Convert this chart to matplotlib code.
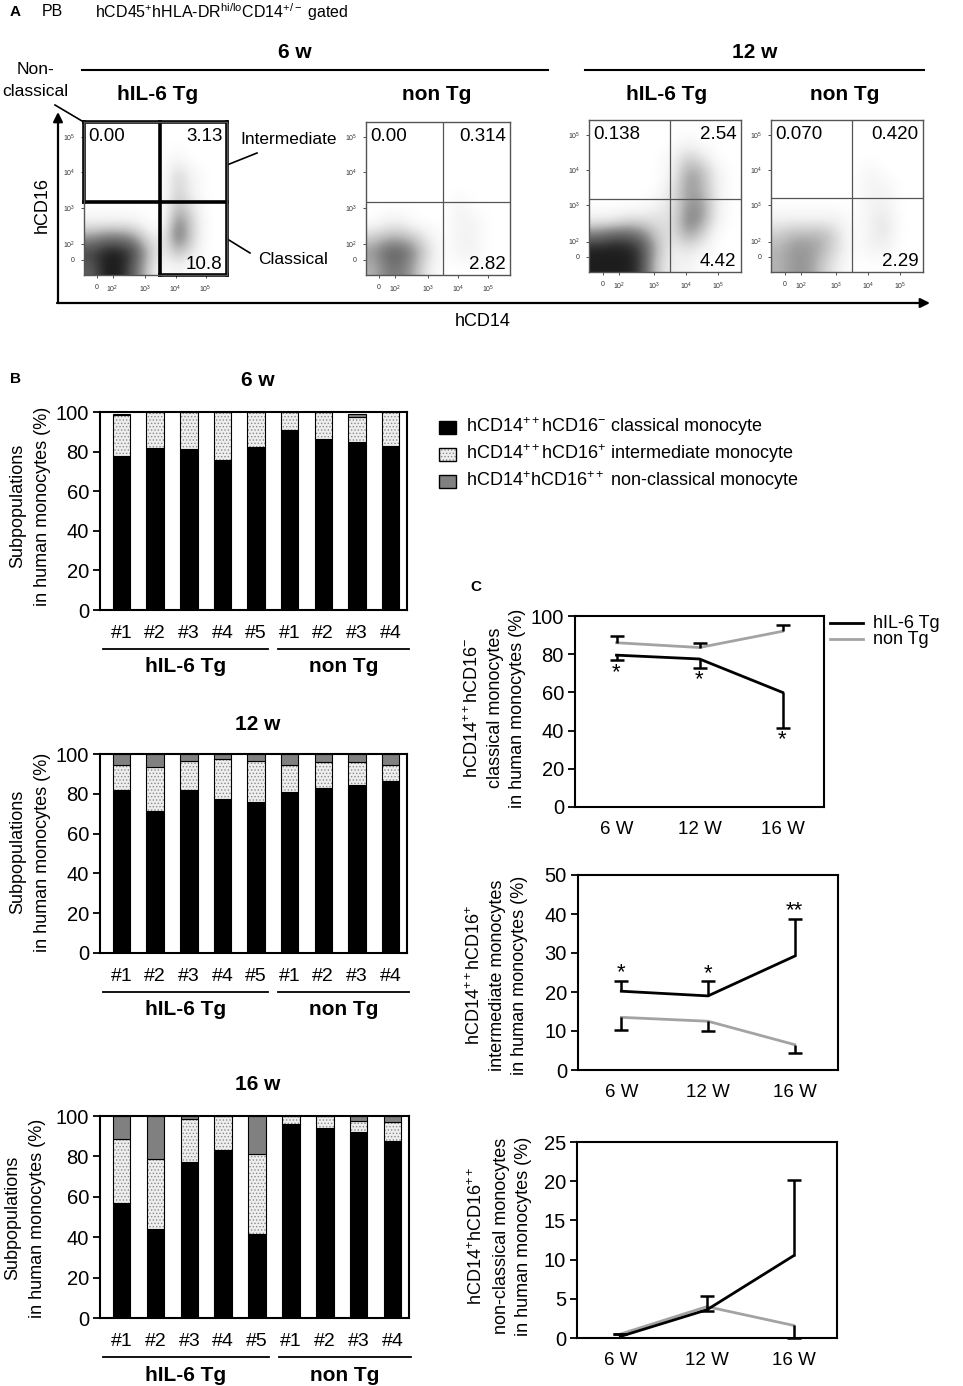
import numpy as np
import matplotlib
matplotlib.use('Agg')
import matplotlib.pyplot as plt
from matplotlib.patches import Rectangle

plt.rcParams.update({
    'font.family': ['Liberation Sans', 'DejaVu Sans'],
    'mathtext.fontset': 'custom',
    'mathtext.rm': 'Liberation Sans',
    'mathtext.it': 'Liberation Sans:italic',
    'mathtext.bf': 'Liberation Sans:bold',
    'hatch.linewidth': 0.6,
})

# ---------------- DATA ----------------
# Panel A: quadrant percentages
flow_titles_week = ['6 w', '12 w']
flow_groups = ['hIL-6 Tg', 'non Tg', 'hIL-6 Tg', 'non Tg']
q_upper_left = ['0.00', '0.00', '0.138', '0.070']
q_upper_right = ['3.13', '0.314', '2.54', '0.420']
q_lower_right = ['10.8', '2.82', '4.42', '2.29']
flow_xtick_labels = ['0', r'$10^2$', r'$10^3$', r'$10^4$', r'$10^5$']
flow_ytick_labels = ['0', r'$10^2$', r'$10^3$', r'$10^4$', r'$10^5$']
# approximate event density (rows: top -> bottom, cols: left -> right)
density_6w_tg = [
    [0, 0, 0, 0, 0, 0, 0, 0, 0, 0],
    [0, 0, 0, 0, 0, 0, 0, 0, 0, 0],
    [0, 0, 0, 0, 0, 0, 1, 0, 0, 0],
    [0, 0, 0, 0, 0, 0, 3, 1, 0, 0],
    [0, 0, 0, 0, 0, 0, 3, 1, 0, 0],
    [0, 0, 0, 0, 0, 0, 4, 2, 0, 0],
    [1, 1, 1, 1, 0, 0, 6, 3, 0, 0],
    [5, 6, 6, 5, 2, 1, 7, 3, 0, 0],
    [8, 9, 9, 8, 4, 1, 4, 2, 0, 0],
    [7, 9, 9, 7, 3, 0, 1, 0, 0, 0],
]
density_6w_non = [
    [0, 0, 0, 0, 0, 0, 0, 0, 0, 0],
    [0, 0, 0, 0, 0, 0, 0, 0, 0, 0],
    [0, 0, 0, 0, 0, 0, 0, 0, 0, 0],
    [0, 0, 0, 0, 0, 0, 0, 0, 0, 0],
    [0, 0, 0, 0, 0, 0, 0, 0, 0, 0],
    [0, 0, 0, 0, 0, 0, 1, 0, 0, 0],
    [0, 1, 1, 0, 0, 0, 1, 1, 0, 0],
    [3, 4, 4, 3, 1, 0, 1, 1, 0, 0],
    [5, 7, 7, 5, 2, 0, 1, 1, 0, 0],
    [4, 6, 6, 4, 1, 0, 0, 0, 0, 0],
]
density_12w_tg = [
    [0, 0, 0, 0, 0, 0, 0, 0, 0, 0],
    [0, 0, 0, 0, 0, 0, 1, 0, 0, 0],
    [0, 0, 0, 0, 0, 1, 3, 2, 0, 0],
    [0, 0, 0, 0, 0, 1, 5, 4, 1, 0],
    [0, 0, 0, 0, 0, 2, 5, 4, 1, 0],
    [0, 0, 0, 0, 1, 2, 5, 5, 1, 0],
    [1, 1, 2, 2, 2, 2, 6, 5, 1, 0],
    [6, 7, 7, 6, 3, 2, 5, 3, 0, 0],
    [9, 9, 9, 8, 4, 1, 2, 1, 0, 0],
    [9, 9, 9, 8, 3, 1, 1, 0, 0, 0],
]
density_12w_non = [
    [0, 0, 0, 0, 0, 0, 0, 0, 0, 0],
    [0, 0, 0, 0, 0, 0, 0, 0, 0, 0],
    [0, 0, 0, 0, 0, 0, 0, 0, 0, 0],
    [0, 0, 0, 0, 0, 0, 1, 0, 0, 0],
    [0, 0, 0, 0, 0, 0, 1, 1, 0, 0],
    [0, 0, 0, 0, 0, 0, 1, 1, 0, 0],
    [1, 1, 1, 1, 1, 0, 1, 2, 0, 0],
    [3, 4, 4, 4, 2, 0, 1, 2, 0, 0],
    [4, 5, 5, 4, 2, 0, 1, 1, 0, 0],
    [4, 5, 5, 3, 1, 0, 0, 0, 0, 0],
]

# Panel B: stacked subpopulations (%)
mice = ['#1', '#2', '#3', '#4', '#5', '#1', '#2', '#3', '#4']
bar_weeks = ['6 w', '12 w', '16 w']
classical_6w = [78, 82, 81.5, 76, 82.5, 91, 86.5, 85, 83]
intermediate_6w = [20.5, 18, 18.5, 24, 17.5, 9, 13.5, 12.3, 17]
nonclassical_6w = [0.5, 0, 0, 0, 0, 0, 0, 1.5, 0]
classical_12w = [81.7, 71.2, 81.7, 77.6, 75.7, 80.7, 83, 84.3, 86.6]
intermediate_12w = [12.9, 22.1, 14.9, 20.1, 20.9, 13.9, 12.8, 11.8, 8.0]
nonclassical_12w = [5.4, 6.7, 3.4, 2.3, 3.4, 5.4, 4.2, 3.9, 5.4]
classical_16w = [56.8, 44.1, 77.1, 83.2, 41.5, 95.9, 94.2, 92.3, 87.6]
intermediate_16w = [31.8, 34.6, 21.3, 16.8, 39.5, 4.1, 5.8, 5.2, 9.3]
nonclassical_16w = [11.4, 21.3, 1.6, 0, 19, 0, 0, 2.5, 3.1]

# Panel C: means and one-sided errors
timepoints = ['6 W', '12 W', '16 W']
classical_tg = [79.5, 77.5, 60]
classical_tg_err = [2.5, 4.5, 18.5]        # drawn downward
classical_non = [86, 83.5, 92]
classical_non_err = [3.5, 2.5, 3.5]        # drawn upward
intermediate_tg = [20.2, 19, 29.2]
intermediate_tg_err = [2.7, 3.8, 9.6]      # upward
intermediate_non = [13.5, 12.5, 6.5]
intermediate_non_err = [3.3, 2.5, 2.2]     # downward
nonclassical_tg = [0.2, 3.6, 10.5]
nonclassical_tg_err = [0.3, 1.8, 9.7]      # upward
nonclassical_non = [0.5, 4.0, 1.6]
nonclassical_non_err = [0.0, 0.6, 1.6]     # downward
classical_stars = ['*', '*', '*']
intermediate_stars = ['*', '*', '**']

# ---------------- FIGURE ----------------
W, H = 963, 1386
fig = plt.figure(figsize=(W / 100, H / 100), dpi=100)


def px_axes(x0, y0, x1, y1):
    return fig.add_axes([x0 / W, 1 - y1 / H, (x1 - x0) / W, (y1 - y0) / H])


ax0 = fig.add_axes([0, 0, 1, 1])
ax0.set_xlim(0, W)
ax0.set_ylim(H, 0)
ax0.axis('off')


def T(x, y, s, **kw):
    kw.setdefault('va', 'center')
    ax0.text(x, y, s, **kw)


def sup(s):
    return r'$^{\mathregular{' + s + '}}$'


# ---------- Panel A ----------
T(10, 12, 'A', fontsize=11, fontweight='bold')
T(42, 12, 'PB', fontsize=11.5)
T(95, 12, 'hCD45' + sup('+') + 'hHLA-DR' + sup('hi/lo') + 'CD14' + sup('+/-') + ' gated', fontsize=11.5)

T(295, 52, flow_titles_week[0], fontsize=15, fontweight='bold', ha='center')
T(755, 52, flow_titles_week[1], fontsize=15, fontweight='bold', ha='center')
ax0.plot([82, 548], [70, 70], color='k', lw=1.5)
ax0.plot([585, 924], [70, 70], color='k', lw=1.5)
for xc, g in zip([158, 437, 667, 845], flow_groups):
    T(xc, 94, g, fontsize=15, fontweight='bold', ha='center')

T(35, 70, 'Non-', fontsize=12.5, ha='center')
T(35, 92, 'classical', fontsize=12.5, ha='center')
ax0.plot([55, 82], [105, 121], color='k', lw=1.2)
T(240, 140, 'Intermediate', fontsize=12.5)
ax0.plot([227, 257], [165, 153], color='k', lw=1.2)
T(258, 259, 'Classical', fontsize=12.5)
ax0.plot([224, 250], [237, 253], color='k', lw=1.2)

ax0.annotate('', xy=(58, 112), xytext=(58, 303),
             arrowprops=dict(arrowstyle='-|>', lw=1.6, color='k', mutation_scale=14, shrinkA=0, shrinkB=0))
ax0.annotate('', xy=(930, 303), xytext=(57, 303),
             arrowprops=dict(arrowstyle='-|>', lw=1.6, color='k', mutation_scale=14, shrinkA=0, shrinkB=0))
T(42, 205, 'hCD16', fontsize=13, rotation=90, ha='center')
T(483, 322, 'hCD14', fontsize=13, ha='center')

flow_boxes = [(84, 122, 227, 275), (366, 122, 510, 275), (589, 120, 741, 272), (771, 120, 923, 272)]
flow_gates = [(0.53, 0.48), (0.535, 0.48), (0.53, 0.48), (0.53, 0.49)]
densities = [density_6w_tg, density_6w_non, density_12w_tg, density_12w_non]
xt_pos = [0.09, 0.20, 0.43, 0.64, 0.85]
yt_pos = [0.10, 0.20, 0.44, 0.67, 0.90]
for i, box in enumerate(flow_boxes):
    ax = px_axes(*box)
    ax.imshow(np.array(densities[i], dtype=float), extent=(0, 1, 0, 1), origin='upper',
              cmap='Greys', vmin=0, vmax=10, interpolation='bicubic', aspect='auto')
    ax.set_xlim(0, 1)
    ax.set_ylim(0, 1)
    gx, gy = flow_gates[i]
    for sp in ax.spines.values():
        sp.set_color('#555555')
        sp.set_linewidth(1.0)
    if i == 0:
        kw = dict(color='k', lw=2.6, clip_on=False, solid_capstyle='projecting')
        ax.plot([0, 1], [gy, gy], **kw)
        ax.plot([gx, gx], [0, 1], **kw)
        ax.plot([0, 1], [1, 1], **kw)
        ax.plot([0, 0], [gy, 1], **kw)
        ax.plot([1, 1], [0, 1], **kw)
        ax.plot([gx, 1], [0, 0], **kw)
    else:
        ax.axvline(gx, color='#555555', lw=0.9)
        ax.axhline(gy, color='#555555', lw=0.9)
    ax.set_xticks(xt_pos)
    ax.set_xticklabels(flow_xtick_labels)
    ax.set_yticks(yt_pos)
    ax.set_yticklabels(flow_ytick_labels)
    ax.tick_params(labelsize=5, length=2.5, width=0.6, pad=4, colors='#333333')
    ax.text(0.03, 0.905, q_upper_left[i], transform=ax.transAxes, fontsize=13.5, va='center', ha='left')
    ax.text(0.97, 0.905, q_upper_right[i], transform=ax.transAxes, fontsize=13.5, va='center', ha='right')
    ax.text(0.97, 0.07, q_lower_right[i], transform=ax.transAxes, fontsize=13.5, va='center', ha='right')

# ---------- Panel B ----------
T(10, 379, 'B', fontsize=11, fontweight='bold')
bar_boxes = [(100, 412, 407, 610), (100, 754, 407, 953), (100, 1116, 409, 1318)]
bar_titles_y = [380, 724, 1085]
ylabel_pos = [(18, 43, 506), (18, 43, 852), (13, 38, 1218)]
bar_data = [(classical_6w, intermediate_6w, nonclassical_6w),
            (classical_12w, intermediate_12w, nonclassical_12w),
            (classical_16w, intermediate_16w, nonclassical_16w)]
x = np.arange(len(mice))
for k, box in enumerate(bar_boxes):
    ax = px_axes(*box)
    cl, it, nc = (np.array(a, dtype=float) for a in bar_data[k])
    ax.bar(x, cl, width=0.52, color='black', edgecolor='black', lw=0.8)
    ax.bar(x, it, width=0.52, bottom=cl, color='#eeeeee', edgecolor='#8a8a8a', lw=0, hatch='.....')
    ax.bar(x, it, width=0.52, bottom=cl, color='none', edgecolor='black', lw=0.8)
    ax.bar(x, nc, width=0.52, bottom=cl + it, color='#808080', edgecolor='black', lw=0.8)
    ax.set_xlim(-0.64, 8.49)
    ax.set_ylim(0, 100)
    ax.set_yticks([0, 20, 40, 60, 80, 100])
    ax.set_xticks(x)
    ax.set_xticklabels(mice)
    ax.tick_params(axis='y', labelsize=14.5, length=5, width=1.3, direction='out', pad=3)
    ax.tick_params(axis='x', labelsize=14, length=0, pad=11)
    for sp in ax.spines.values():
        sp.set_linewidth(1.5)
    tr = ax.get_xaxis_transform()
    ax.plot([-0.55, 4.35], [-0.195, -0.195], color='k', lw=1.3, transform=tr, clip_on=False)
    ax.plot([4.65, 8.55], [-0.195, -0.195], color='k', lw=1.3, transform=tr, clip_on=False)
    ax.text(1.9, -0.285, 'hIL-6 Tg', transform=tr, fontsize=15, fontweight='bold', ha='center', va='center')
    ax.text(6.6, -0.285, 'non Tg', transform=tr, fontsize=15, fontweight='bold', ha='center', va='center')
    T(258, bar_titles_y[k], bar_weeks[k], fontsize=15, fontweight='bold', ha='center')
    x1, x2, yc = ylabel_pos[k]
    T(x1, yc, 'Subpopulations', fontsize=13, rotation=90, ha='center')
    T(x2, yc, 'in human monocytes (%)', fontsize=13, rotation=90, ha='center')

# legend for B
leg_labels = ['hCD14' + sup('++') + 'hCD16' + sup('-') + ' classical monocyte',
              'hCD14' + sup('++') + 'hCD16' + sup('+') + ' intermediate monocyte',
              'hCD14' + sup('+') + 'hCD16' + sup('++') + ' non-classical monocyte']
leg_y = [427, 454, 481]
for j, yy in enumerate(leg_y):
    if j == 0:
        ax0.add_patch(Rectangle((439, yy - 6.5), 17, 13, facecolor='black', edgecolor='black', lw=1))
    elif j == 1:
        ax0.add_patch(Rectangle((439, yy - 6.5), 17, 13, facecolor='#eeeeee', edgecolor='#8a8a8a', lw=0, hatch='.....'))
        ax0.add_patch(Rectangle((439, yy - 6.5), 17, 13, facecolor='none', edgecolor='black', lw=1))
    else:
        ax0.add_patch(Rectangle((439, yy - 6.5), 17, 13, facecolor='#808080', edgecolor='black', lw=1))
    T(466, yy, leg_labels[j], fontsize=13)

# ---------- Panel C ----------
T(470, 587, 'C', fontsize=11, fontweight='bold')
c_boxes = [(575, 616, 824, 807), (578, 875, 838, 1070), (577, 1142, 837, 1338)]
c_series = [
    (classical_tg, classical_tg_err, -1, classical_non, classical_non_err, 1, (0, 100), 20),
    (intermediate_tg, intermediate_tg_err, 1, intermediate_non, intermediate_non_err, -1, (0, 50), 10),
    (nonclassical_tg, nonclassical_tg_err, 1, nonclassical_non, nonclassical_non_err, -1, (0, 25), 5),
]
c_ylabels = [
    ['hCD14' + sup('++') + 'hCD16' + sup('-'), 'classical monocytes', 'in human monocytes (%)'],
    ['hCD14' + sup('++') + 'hCD16' + sup('+'), 'intermediate monocytes', 'in human monocytes (%)'],
    ['hCD14' + sup('+') + 'hCD16' + sup('++'), 'non-classical monocytes', 'in human monocytes (%)'],
]
c_ylabel_pos = [([473, 495, 517], 708), ([475, 497, 520], 975), ([477, 501, 524], 1236)]
tx = np.arange(len(timepoints))
for k, box in enumerate(c_boxes):
    ax = px_axes(*box)
    tg, tge, tgd, non, none_, nond, ylim, step = c_series[k]
    tg = np.array(tg, float); tge = np.array(tge, float)
    non = np.array(non, float); none_ = np.array(none_, float)
    ax.plot(tx, non, color='#a3a3a3', lw=2.0, zorder=2)
    ax.plot(tx, tg, color='black', lw=2.0, zorder=3)
    for yv, ev, d in ((tg, tge, tgd), (non, none_, nond)):
        ends = yv + d * ev
        ax.vlines(tx, yv, ends, color='black', lw=1.8, zorder=4)
        ax.plot(tx, ends, linestyle='none', marker='_', markersize=10, mew=1.8, color='black', zorder=4,
                clip_on=False)
    ax.set_xlim(-0.5, 2.5)
    ax.set_ylim(*ylim)
    ax.set_yticks(np.arange(ylim[0], ylim[1] + step / 2, step))
    ax.set_xticks(tx)
    ax.set_xticklabels(timepoints)
    ax.tick_params(axis='y', labelsize=14.5, length=5, width=1.3, direction='out', pad=3)
    ax.tick_params(axis='x', labelsize=13.5, length=0, pad=10)
    for sp in ax.spines.values():
        sp.set_linewidth(1.5)
    if k == 0:
        for xi, s in enumerate(classical_stars):
            ax.text(tx[xi], tg[xi] - tge[xi] - 6.5, s, fontsize=16, ha='center', va='center')
    if k == 1:
        for xi, s in enumerate(intermediate_stars):
            ax.text(tx[xi], tg[xi] + tge[xi] + 2.0, s, fontsize=16, ha='center', va='center')
    xs, yc = c_ylabel_pos[k]
    for xl, line in zip(xs, c_ylabels[k]):
        T(xl, yc, line, fontsize=13, rotation=90, ha='center')

# legend for C
ax0.plot([830, 863], [623, 623], color='black', lw=2.0)
ax0.plot([830, 863], [639, 639], color='#a3a3a3', lw=2.0)
T(873, 623, 'hIL-6 Tg', fontsize=13)
T(873, 639, 'non Tg', fontsize=13)

fig.savefig('out.png', dpi=100)
